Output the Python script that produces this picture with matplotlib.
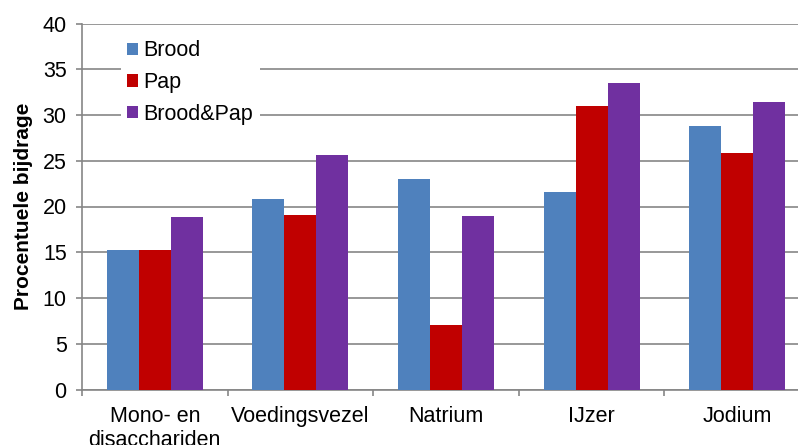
import numpy as np
import matplotlib.pyplot as plt

plt.rcParams['font.family'] = ['Liberation Sans', 'DejaVu Sans']

categories = ["Mono- en\ndisacchariden", "Voedingsvezel", "Natrium", "IJzer", "Jodium"]
brood = [15.2, 20.8, 23.0, 21.6, 28.8]
pap = [15.3, 19.1, 7.0, 31.0, 25.9]
brood_pap = [18.9, 25.6, 19.0, 33.5, 31.4]
series = ["Brood", "Pap", "Brood&Pap"]
colors = ["#4F81BD", "#C00000", "#7030A0"]

W, H = 798, 445
fig = plt.figure(figsize=(W / 100, H / 100), dpi=100)
ax = fig.add_axes([82 / W, 1 - 389.5 / H, 728 / W, 366 / H])

x = np.arange(len(categories))
bw = 0.22
for i, (vals, name, c) in enumerate(zip([brood, pap, brood_pap], series, colors)):
    ax.bar(x + (i - 1) * bw, vals, bw, color=c, label=name, zorder=3)

ax.set_xlim(-0.5, len(categories) - 0.5)
ax.set_ylim(0, 40)
ax.set_yticks(range(0, 41, 5))
ax.set_xticks(x)
ax.set_xticklabels(categories, fontsize=15.5)
ax.set_xticks(np.arange(-0.5, len(categories), 1), minor=True)
ax.tick_params(axis='x', which='major', length=0, pad=12)
ax.tick_params(axis='x', which='minor', length=4, color='#868686', width=1.2)
ax.tick_params(axis='y', length=4, color='#868686', width=1.2, labelsize=15.5, pad=7)

ax.grid(axis='y', color='#868686', lw=1.2, zorder=0)
for s in ['top', 'right']:
    ax.spines[s].set_visible(False)
for s in ['left', 'bottom']:
    ax.spines[s].set_color('#868686')
    ax.spines[s].set_linewidth(1.2)

ax.set_ylabel("Procentuele bijdrage", fontsize=15, fontweight='bold')
ax.yaxis.set_label_coords(-0.067, 0.5)

leg = ax.legend(loc='upper left', bbox_to_anchor=(121 / W, 1 - 34 / H),
                bbox_transform=fig.transFigure, fontsize=15.5, frameon=True,
                fancybox=False, edgecolor='none', facecolor='white', framealpha=1,
                handlelength=0.5, handleheight=0.5, handletextpad=0.25,
                labelspacing=0.5, borderpad=0.3, borderaxespad=0)
leg.set_zorder(5)

fig.savefig("out.png", dpi=100)
